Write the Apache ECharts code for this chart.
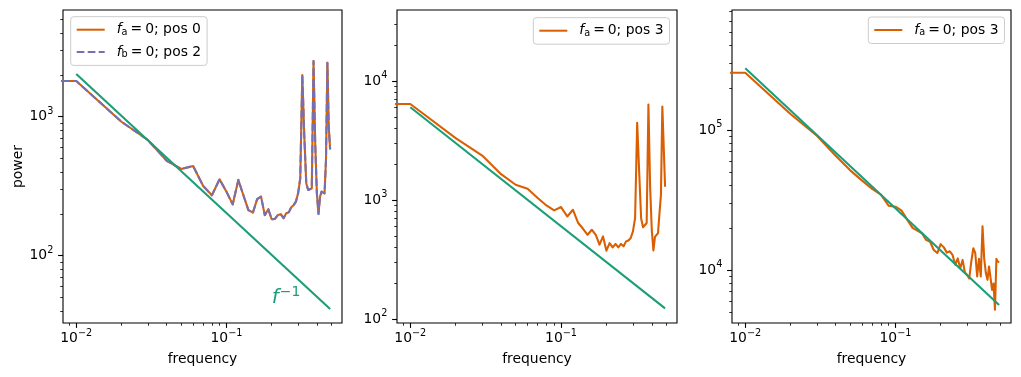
<!DOCTYPE html>
<html><head><meta charset="utf-8">
<script src="https://cdn.jsdelivr.net/npm/echarts@6/dist/echarts.min.js"></script>
<style>html,body{margin:0;padding:0;background:#fff}#c{width:1021px;height:377px}</style>
</head><body><div id="c"></div>
<script>
// ---------------- data ----------------
const freqs = [0, 0.01, 0.02, 0.03, 0.04, 0.05, 0.06, 0.07, 0.08, 0.09, 0.10,
  0.11, 0.12, 0.13, 0.14, 0.15, 0.16, 0.17, 0.18, 0.19, 0.20,
  0.21, 0.22, 0.23, 0.24, 0.25, 0.26, 0.27, 0.28, 0.29, 0.30,
  0.31, 0.32, 0.33, 0.34, 0.35, 0.36, 0.37, 0.38, 0.39, 0.40,
  0.41, 0.42, 0.43, 0.44, 0.45, 0.46, 0.47, 0.48, 0.49];

const powerA0 = [1805, 1805, 920, 680, 482, 421, 442, 317, 272, 355, 289,
  234, 351, 270, 213, 204, 255, 266, 196, 216, 183,
  184, 196, 199, 186, 202, 205, 223, 231, 245, 281,
  360, 1995, 718, 332, 297, 294, 305, 2515, 644, 281,
  200, 266, 289, 284, 281, 488, 2445, 850, 582];
const powerB2 = [1805, 1805, 920, 680, 482, 421, 442, 317, 272, 355, 289,
  234, 351, 270, 213, 204, 255, 266, 196, 216, 183,
  184, 196, 199, 186, 202, 205, 223, 231, 245, 281,
  360, 1995, 718, 332, 297, 294, 305, 2515, 644, 281,
  200, 266, 289, 284, 281, 488, 2445, 850, 582];
const powerA3mid = [6410, 6410, 3305, 2362, 1648, 1342, 1243, 1038, 900, 817, 872,
  727, 827, 640, 573, 510, 562, 510, 421, 494, 375,
  434, 400, 427, 400, 427, 408, 449, 457, 479, 544,
  705, 4450, 1700, 700, 590, 600, 640, 6330, 1300, 560,
  377, 490, 480, 527, 775, 1100, 6090, 2810, 1290];
const powerA3right = [256600, 256600, 130000, 91000, 65500, 51500, 43500, 38000, 34500, 28800, 28300,
  26500, 22800, 20000, 19100, 18300, 16400, 15900, 13900, 13200, 15300,
  14500, 13300, 13600, 12800, 10900, 12100, 10300, 11800, 9600, 9200,
  8700, 11500, 14300, 13200, 9000, 12000, 9000, 20500, 12000, 9500,
  8500, 10600, 10600, 7200, 8000, 5200, 12000, 11500, 11300];

// f^-1 reference lines (end points)
const refFreq = [0.01, 0.49];
const refLeft = [2030, 41.4];
const refMid = [6010, 122.7];
const refRight = [276000, 5630];

const legendNames = ['A0', 'B2', 'A3m', 'A3r'];
const legendSub = ['a', 'b', 'a', 'a'];
const legendRest = ['0; pos 0', '0; pos 2', '0; pos 3', '0; pos 3'];

const xMajor = [0.01, 0.1];
const xMajorExp = ['\u22122', '\u22121'];
const yMajor = [[100, 1000], [100, 1000, 10000], [10000, 100000]];
const yMajorExp = [['2', '3'], ['2', '3', '4'], ['4', '5']];

const xRange = [0.00816, 0.588];
const yRanges = [[32.8, 5860], [92.5, 39500], [4180, 720000]];

// ---------------- helpers ----------------
const FONT = 'DejaVu Sans';
const BASE = 13.9, SUP = 9.7;
const ORANGE = '#d95f02', PURPLE = '#7570b3', GREEN = '#1b9e77';
const LW = 2.08;

function minorTicks(lo, hi) {
  const out = [];
  for (let e = Math.floor(Math.log10(lo)) - 1; e <= Math.ceil(Math.log10(hi)); e++) {
    for (let d = 2; d <= 9; d++) {
      const v = d * Math.pow(10, e);
      if (v >= lo && v <= hi) out.push(v);
    }
  }
  return out;
}
// matplotlib clips non-positive values on log axes to a tiny positive number
const xs = freqs.map(f => f > 0 ? f : 1e-4);
const pairs = (x, y) => x.map((v, i) => [v, y[i]]);

const richTick = {
  b: {fontFamily: FONT, fontSize: BASE, color: '#000'},
  s: {fontFamily: FONT, fontSize: SUP, color: '#000', padding: [0, 0, 11, 0]}
};
function fmt(majors, exps) {
  return v => {
    const i = majors.findIndex(m => Math.abs(m - v) / m < 1e-6);
    return '{b|10}{s|' + exps[i] + '}';
  };
}

const panels = [
  {left: 63, width: 279},
  {left: 397, width: 280},
  {left: 732, width: 279}
];
const TOP = 10, HEIGHT = 313;

const grid = [], xAxis = [], yAxis = [];
panels.forEach((p, i) => {
  grid.push({left: p.left, top: TOP, width: p.width, height: HEIGHT, show: true,
    borderColor: '#000', borderWidth: 1.1, backgroundColor: 'transparent'});
  xAxis.push({
    type: 'log', logBase: 10, gridIndex: i, min: xRange[0], max: xRange[1],
    name: 'frequency', nameLocation: 'middle', nameGap: 29,
    nameTextStyle: {fontFamily: FONT, fontSize: BASE, color: '#000'},
    axisLine: {show: false},
    axisTick: {show: true, customValues: xMajor, length: 4.9, lineStyle: {color: '#000', width: 1.1}},
    axisLabel: {show: true, customValues: xMajor, margin: 5, formatter: fmt(xMajor, xMajorExp), rich: richTick},
    splitLine: {show: false}, minorTick: {show: false}
  });
  xAxis.push({
    type: 'log', logBase: 10, gridIndex: i, min: xRange[0], max: xRange[1], position: 'bottom',
    axisLine: {show: false},
    axisTick: {show: true, customValues: minorTicks(xRange[0], xRange[1]), length: 2.8, lineStyle: {color: '#000', width: 0.8}},
    axisLabel: {show: false}, splitLine: {show: false}
  });
  yAxis.push({
    type: 'log', logBase: 10, gridIndex: i, min: yRanges[i][0], max: yRanges[i][1],
    name: i === 0 ? 'power' : '', nameLocation: 'middle', nameGap: 38,
    nameTextStyle: {fontFamily: FONT, fontSize: BASE, color: '#000'},
    axisLine: {show: false},
    axisTick: {show: true, customValues: yMajor[i], length: 4.9, lineStyle: {color: '#000', width: 1.1}},
    axisLabel: {show: true, customValues: yMajor[i], margin: 9.7, formatter: fmt(yMajor[i], yMajorExp[i]), rich: richTick},
    splitLine: {show: false}
  });
  yAxis.push({
    type: 'log', logBase: 10, gridIndex: i, min: yRanges[i][0], max: yRanges[i][1], position: 'left',
    axisLine: {show: false},
    axisTick: {show: true, customValues: minorTicks(yRanges[i][0], yRanges[i][1]), length: 2.8, lineStyle: {color: '#000', width: 0.8}},
    axisLabel: {show: false}, splitLine: {show: false}
  });
});

function lineSeries(name, gi, data, color, dash) {
  return {
    name: name, type: 'line', xAxisIndex: 2 * gi, yAxisIndex: 2 * gi, data: data,
    symbol: 'none', clip: true, silent: true,
    lineStyle: {color: color, width: LW, type: dash || 'solid', cap: 'butt', join: 'round'},
    itemStyle: {color: color}
  };
}
function refSeries(gi, vals, extra) {
  return Object.assign({
    type: 'line', xAxisIndex: 2 * gi, yAxisIndex: 2 * gi, data: pairs(refFreq, vals),
    symbol: 'none', silent: true, lineStyle: {color: GREEN, width: LW}
  }, extra || {});
}

const series = [
  lineSeries(legendNames[0], 0, pairs(xs, powerA0), ORANGE),
  lineSeries(legendNames[1], 0, pairs(xs, powerB2), PURPLE, [7.7, 3.3]),
  refSeries(0, refLeft, {
    markPoint: {
      symbol: 'circle', symbolSize: 0, silent: true,
      data: [{coord: [0.2, 40]}],
      label: {show: true, position: [0, 0], align: 'left', verticalAlign: 'bottom',
        formatter: '{i|f}{s|\u22121}',
        rich: {
          i: {fontFamily: FONT, fontStyle: 'italic', fontSize: 20, color: GREEN},
          s: {fontFamily: FONT, fontSize: 14, color: GREEN, padding: [0, 0, 12, 1]}
        }}
    }
  }),
  lineSeries(legendNames[2], 1, pairs(xs, powerA3mid), ORANGE),
  refSeries(1, refMid),
  lineSeries(legendNames[3], 2, pairs(xs, powerA3right), ORANGE),
  refSeries(2, refRight)
];

const legendRich = {
  i: {fontFamily: FONT, fontStyle: 'italic', fontSize: BASE, color: '#000', padding: [0, 0, 0, 7]},
  sub: {fontFamily: FONT, fontSize: SUP, color: '#000', padding: [5, 0, 0, 0]},
  eq: {fontFamily: FONT, fontSize: BASE, color: '#000', padding: [0, 3, 0, 3]},
  t: {fontFamily: FONT, fontSize: BASE, color: '#000'}
};
function legendFmt(name) {
  const i = legendNames.indexOf(name);
  return '{i|f}{sub|' + legendSub[i] + '}{eq|=}{t|' + legendRest[i] + '}';
}
function mkLegend(names, left, top) {
  return {
    data: names, left: left, top: top, orient: 'vertical', selectedMode: false,
    itemWidth: 28, itemHeight: 14, itemGap: 7.7, padding: [6, 6, 6, 5],
    borderColor: '#cccccc', borderWidth: 1, borderRadius: 3,
    backgroundColor: 'rgba(255,255,255,0.8)',
    itemStyle: {opacity: 0},
    formatter: legendFmt,
    textStyle: {fontFamily: FONT, fontSize: BASE, color: '#000', rich: legendRich}
  };
}

const option = {
  animation: false,
  backgroundColor: '#fff',
  textStyle: {fontFamily: FONT},
  grid: grid, xAxis: xAxis, yAxis: yAxis, series: series,
  legend: [
    mkLegend([legendNames[0], legendNames[1]], 70.7, 16.7),
    mkLegend([legendNames[2]], 533.3, 17.7),
    mkLegend([legendNames[3]], 868.3, 17)
  ]
};
const chart = echarts.init(document.getElementById('c'), null, {renderer: 'canvas'});
chart.setOption(option);
</script>
</body></html>
